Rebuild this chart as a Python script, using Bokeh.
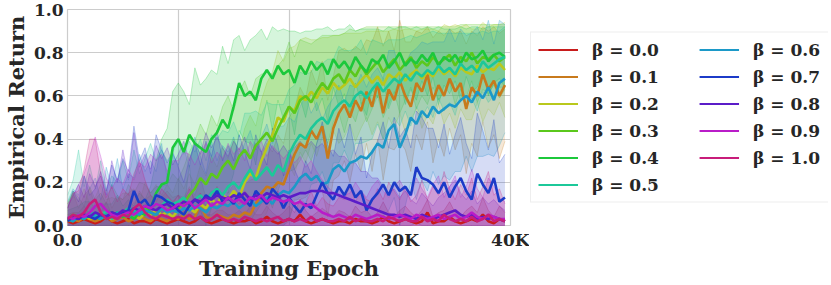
import colorsys
import numpy as np
from bokeh.plotting import figure
from bokeh.layouts import row
from bokeh.models import Legend, LegendItem, FixedTicker
from bokeh.embed import file_html
from bokeh.resources import INLINE

# ---------------- data ----------------
epochs = list(range(0, 40000, 500))

beta_labels = ["0.0", "0.1", "0.2", "0.3", "0.4", "0.5", "0.6", "0.7", "0.8", "0.9", "1.0"]

xtick_values = [0, 10000, 20000, 30000, 40000]
xtick_labels = ["0.0", "10K", "20K", "30K", "40K"]
ytick_values = [0.0, 0.2, 0.4, 0.6, 0.8, 1.0]
ytick_labels = ["0.0", "0.2", "0.4", "0.6", "0.8", "1.0"]

mean_b00 = [0.02,0.01,0.02,0.03,0.02,0.01,0.02,0.04,0.02,0.01,
            0.02,0.03,0.01,0.02,0.02,0.01,0.03,0.02,0.01,0.02,
            0.03,0.02,0.01,0.02,0.04,0.02,0.01,0.02,0.03,0.02,
            0.01,0.02,0.02,0.03,0.01,0.02,0.04,0.02,0.01,0.02,
            0.03,0.02,0.05,0.02,0.01,0.02,0.03,0.02,0.01,0.02,
            0.02,0.01,0.03,0.02,0.02,0.01,0.02,0.04,0.02,0.01,
            0.02,0.03,0.02,0.01,0.02,0.06,0.01,0.02,0.02,0.04,
            0.02,0.01,0.02,0.03,0.02,0.05,0.02,0.01,0.03,0.02]
mean_b01 = [0.02,0.03,0.02,0.04,0.03,0.02,0.03,0.05,0.02,0.03,
            0.04,0.02,0.03,0.05,0.03,0.02,0.04,0.03,0.02,0.04,
            0.03,0.05,0.03,0.04,0.1,0.04,0.03,0.05,0.04,0.03,
            0.05,0.04,0.06,0.05,0.1,0.15,0.18,0.17,0.2,0.19,
            0.26,0.33,0.38,0.36,0.44,0.4,0.46,0.31,0.45,0.52,
            0.56,0.5,0.58,0.53,0.62,0.55,0.66,0.52,0.63,0.58,
            0.67,0.6,0.55,0.66,0.62,0.7,0.58,0.65,0.6,0.68,
            0.62,0.66,0.54,0.64,0.6,0.7,0.63,0.67,0.6,0.65]
mean_b02 = [0.02,0.04,0.03,0.05,0.03,0.04,0.06,0.04,0.03,0.05,
            0.04,0.06,0.05,0.03,0.06,0.05,0.07,0.05,0.06,0.04,
            0.07,0.05,0.08,0.06,0.1,0.08,0.12,0.1,0.14,0.12,
            0.16,0.13,0.2,0.24,0.22,0.3,0.36,0.42,0.5,0.48,
            0.55,0.53,0.6,0.58,0.62,0.59,0.64,0.61,0.66,0.63,
            0.65,0.68,0.64,0.67,0.7,0.66,0.69,0.65,0.7,0.68,
            0.71,0.67,0.7,0.72,0.68,0.71,0.69,0.73,0.7,0.72,
            0.69,0.73,0.71,0.7,0.74,0.71,0.73,0.72,0.75,0.72]
mean_b03 = [0.03,0.05,0.04,0.03,0.06,0.04,0.05,0.03,0.06,0.05,
            0.04,0.07,0.05,0.06,0.08,0.06,0.05,0.08,0.07,0.09,
            0.08,0.1,0.14,0.17,0.22,0.19,0.24,0.22,0.27,0.3,
            0.26,0.32,0.35,0.31,0.37,0.4,0.43,0.39,0.45,0.5,
            0.55,0.52,0.58,0.6,0.57,0.62,0.66,0.63,0.68,0.7,
            0.66,0.72,0.69,0.74,0.7,0.73,0.76,0.71,0.74,0.77,
            0.72,0.75,0.78,0.73,0.76,0.74,0.78,0.75,0.77,0.79,
            0.74,0.78,0.76,0.8,0.75,0.78,0.77,0.79,0.76,0.78]
mean_b04 = [0.03,0.02,0.04,0.03,0.05,0.04,0.03,0.05,0.04,0.06,
            0.04,0.05,0.03,0.06,0.05,0.08,0.15,0.19,0.2,0.36,
            0.4,0.34,0.42,0.38,0.36,0.34,0.4,0.43,0.49,0.45,
            0.55,0.66,0.6,0.62,0.58,0.68,0.72,0.68,0.74,0.7,
            0.72,0.66,0.74,0.7,0.76,0.72,0.75,0.7,0.77,0.73,
            0.76,0.72,0.78,0.74,0.71,0.77,0.75,0.79,0.73,0.76,
            0.8,0.74,0.77,0.75,0.79,0.76,0.8,0.74,0.78,0.76,
            0.79,0.75,0.8,0.77,0.78,0.81,0.76,0.79,0.8,0.78]
mean_b05 = [0.04,0.03,0.05,0.04,0.06,0.05,0.04,0.07,0.03,0.05,
            0.06,0.08,0.07,0.06,0.09,0.08,0.1,0.09,0.12,0.1,
            0.11,0.13,0.09,0.12,0.14,0.11,0.15,0.17,0.14,0.18,
            0.2,0.17,0.22,0.26,0.21,0.24,0.27,0.23,0.28,0.25,
            0.33,0.38,0.42,0.4,0.45,0.48,0.5,0.47,0.53,0.56,
            0.58,0.55,0.6,0.62,0.59,0.63,0.66,0.62,0.65,0.68,
            0.66,0.7,0.67,0.71,0.69,0.72,0.7,0.74,0.71,0.73,
            0.7,0.75,0.72,0.74,0.71,0.76,0.73,0.75,0.77,0.78]
mean_b06 = [0.03,0.02,0.04,0.03,0.05,0.04,0.03,0.05,0.04,0.06,
            0.05,0.04,0.06,0.05,0.07,0.06,0.05,0.08,0.06,0.07,
            0.06,0.08,0.07,0.09,0.08,0.06,0.09,0.08,0.1,0.09,
            0.11,0.08,0.1,0.12,0.09,0.11,0.13,0.1,0.14,0.16,
            0.15,0.18,0.22,0.24,0.21,0.23,0.19,0.2,0.26,0.28,
            0.25,0.29,0.3,0.32,0.31,0.34,0.38,0.36,0.44,0.47,
            0.36,0.42,0.5,0.47,0.53,0.5,0.55,0.52,0.54,0.56,
            0.55,0.58,0.6,0.57,0.62,0.59,0.64,0.58,0.66,0.68]
mean_b07 = [0.02,0.04,0.03,0.05,0.04,0.03,0.05,0.04,0.06,0.05,
            0.06,0.07,0.16,0.1,0.12,0.08,0.14,0.13,0.11,0.1,
            0.07,0.05,0.09,0.12,0.1,0.14,0.12,0.16,0.11,0.13,
            0.1,0.15,0.12,0.09,0.16,0.13,0.1,0.17,0.14,0.08,
            0.13,0.09,0.06,0.1,0.08,0.14,0.2,0.15,0.12,0.18,
            0.14,0.19,0.13,0.16,0.07,0.12,0.15,0.19,0.14,0.2,
            0.16,0.18,0.14,0.27,0.22,0.21,0.19,0.15,0.2,0.13,
            0.18,0.22,0.16,0.12,0.24,0.19,0.15,0.22,0.11,0.13]
mean_b08 = [0.03,0.04,0.03,0.05,0.04,0.06,0.05,0.04,0.06,0.05,
            0.07,0.06,0.08,0.07,0.09,0.08,0.07,0.09,0.1,0.08,
            0.09,0.11,0.1,0.12,0.11,0.13,0.12,0.14,0.13,0.12,
            0.14,0.13,0.15,0.12,0.14,0.13,0.15,0.14,0.13,0.14,
            0.13,0.14,0.15,0.15,0.16,0.16,0.16,0.15,0.15,0.14,
            0.13,0.12,0.11,0.1,0.09,0.08,0.07,0.06,0.05,0.05,
            0.04,0.05,0.04,0.03,0.05,0.04,0.03,0.04,0.05,0.06,
            0.07,0.05,0.04,0.05,0.03,0.04,0.03,0.04,0.03,0.02]
mean_b09 = [0.04,0.03,0.05,0.04,0.06,0.09,0.1,0.07,0.05,0.04,
            0.05,0.06,0.05,0.07,0.09,0.08,0.1,0.09,0.07,0.08,
            0.1,0.09,0.11,0.08,0.1,0.12,0.09,0.11,0.1,0.13,
            0.11,0.12,0.1,0.13,0.12,0.14,0.11,0.13,0.12,0.11,
            0.12,0.1,0.11,0.09,0.1,0.08,0.06,0.05,0.04,0.05,
            0.04,0.03,0.05,0.04,0.03,0.04,0.05,0.04,0.03,0.04,
            0.05,0.04,0.03,0.05,0.04,0.03,0.04,0.05,0.03,0.04,
            0.05,0.03,0.04,0.06,0.04,0.03,0.05,0.04,0.03,0.03]
mean_b10 = [0.03,0.05,0.04,0.06,0.1,0.12,0.06,0.03,0.04,0.03,
            0.05,0.04,0.08,0.1,0.06,0.04,0.03,0.05,0.04,0.03,
            0.04,0.03,0.05,0.03,0.04,0.02,0.03,0.05,0.03,0.02,
            0.03,0.02,0.04,0.03,0.02,0.03,0.02,0.03,0.04,0.02,
            0.03,0.02,0.03,0.02,0.04,0.02,0.03,0.02,0.02,0.03,
            0.02,0.04,0.02,0.03,0.02,0.02,0.03,0.02,0.04,0.03,
            0.02,0.03,0.02,0.02,0.04,0.02,0.03,0.02,0.05,0.03,
            0.02,0.03,0.02,0.04,0.02,0.03,0.05,0.02,0.03,0.02]

std_b00 = [0.03,0.05,0.04,0.06,0.03,0.05,0.04,0.07,0.03,0.04,
           0.05,0.03,0.06,0.04,0.03,0.05,0.04,0.06,0.03,0.04,
           0.05,0.04,0.03,0.06,0.05,0.03,0.04,0.05,0.04,0.03,
           0.04,0.05,0.03,0.06,0.04,0.03,0.05,0.04,0.03,0.04,
           0.06,0.04,0.07,0.05,0.03,0.04,0.05,0.04,0.03,0.05,
           0.04,0.03,0.06,0.04,0.05,0.03,0.04,0.07,0.04,0.03,
           0.05,0.06,0.04,0.03,0.05,0.06,0.03,0.04,0.05,0.07,
           0.04,0.03,0.05,0.06,0.04,0.08,0.05,0.03,0.06,0.04]
std_b01 = [0.08,0.12,0.06,0.1,0.14,0.07,0.09,0.12,0.06,0.1,
           0.08,0.13,0.07,0.11,0.09,0.12,0.08,0.1,0.14,0.09,
           0.11,0.08,0.15,0.1,0.12,0.09,0.13,0.11,0.08,0.12,
           0.14,0.1,0.13,0.16,0.12,0.18,0.2,0.17,0.22,0.19,
           0.24,0.21,0.26,0.23,0.28,0.25,0.3,0.27,0.24,0.29,
           0.26,0.3,0.25,0.28,0.24,0.3,0.26,0.31,0.27,0.23,
           0.28,0.25,0.3,0.24,0.27,0.22,0.29,0.25,0.28,0.23,
           0.27,0.24,0.3,0.26,0.28,0.22,0.27,0.25,0.29,0.26]
std_b02 = [0.06,0.1,0.08,0.12,0.07,0.09,0.13,0.08,0.1,0.07,
           0.11,0.09,0.12,0.08,0.14,0.1,0.12,0.09,0.13,0.11,
           0.15,0.12,0.16,0.13,0.18,0.15,0.2,0.17,0.22,0.19,
           0.24,0.21,0.25,0.27,0.24,0.28,0.3,0.29,0.31,0.28,
           0.27,0.3,0.26,0.29,0.24,0.27,0.23,0.26,0.22,0.25,
           0.24,0.21,0.25,0.22,0.2,0.24,0.21,0.25,0.2,0.23,
           0.19,0.24,0.21,0.18,0.23,0.2,0.22,0.17,0.23,0.2,
           0.24,0.19,0.22,0.21,0.17,0.23,0.19,0.21,0.18,0.22]
std_b03 = [0.07,0.11,0.09,0.06,0.12,0.08,0.1,0.07,0.13,0.09,
           0.08,0.12,0.1,0.14,0.11,0.09,0.13,0.1,0.12,0.15,
           0.13,0.17,0.2,0.22,0.25,0.23,0.27,0.24,0.28,0.3,
           0.27,0.3,0.32,0.29,0.31,0.3,0.28,0.31,0.29,0.27,
           0.3,0.26,0.28,0.25,0.27,0.24,0.22,0.25,0.2,0.18,
           0.23,0.19,0.21,0.17,0.22,0.19,0.16,0.21,0.18,0.15,
           0.2,0.17,0.14,0.19,0.16,0.18,0.14,0.17,0.15,0.13,
           0.18,0.15,0.17,0.13,0.18,0.15,0.16,0.14,0.17,0.15]
std_b04 = [0.04,0.06,0.05,0.08,0.06,0.04,0.07,0.05,0.06,0.08,
           0.05,0.07,0.06,0.09,0.07,0.1,0.15,0.21,0.25,0.26,
           0.26,0.28,0.14,0.35,0.29,0.34,0.32,0.27,0.34,0.3,
           0.31,0.22,0.21,0.24,0.3,0.23,0.14,0.24,0.16,0.21,
           0.18,0.24,0.15,0.2,0.14,0.19,0.16,0.22,0.13,0.18,
           0.15,0.21,0.12,0.17,0.2,0.14,0.16,0.11,0.19,0.15,
           0.12,0.18,0.14,0.17,0.12,0.16,0.11,0.18,0.13,0.15,
           0.12,0.17,0.11,0.15,0.14,0.1,0.16,0.13,0.12,0.14]
std_b05 = [0.1,0.18,0.3,0.14,0.22,0.12,0.26,0.1,0.2,0.15,
           0.24,0.13,0.28,0.18,0.22,0.3,0.2,0.26,0.18,0.24,
           0.28,0.2,0.3,0.22,0.26,0.19,0.27,0.23,0.3,0.25,
           0.28,0.24,0.3,0.26,0.32,0.27,0.3,0.33,0.28,0.31,
           0.3,0.27,0.29,0.3,0.26,0.28,0.25,0.3,0.24,0.27,
           0.23,0.26,0.22,0.24,0.2,0.23,0.19,0.22,0.21,0.18,
           0.2,0.17,0.21,0.16,0.19,0.17,0.2,0.15,0.18,0.16,
           0.19,0.14,0.17,0.15,0.18,0.14,0.16,0.15,0.13,0.14]
std_b06 = [0.08,0.15,0.1,0.2,0.12,0.18,0.09,0.22,0.14,0.25,
           0.12,0.2,0.16,0.28,0.18,0.24,0.2,0.3,0.16,0.26,
           0.22,0.28,0.2,0.32,0.24,0.18,0.3,0.22,0.27,0.25,
           0.3,0.24,0.28,0.32,0.26,0.3,0.34,0.28,0.32,0.3,
           0.35,0.3,0.33,0.36,0.31,0.34,0.3,0.35,0.33,0.37,
           0.32,0.36,0.34,0.38,0.33,0.36,0.35,0.32,0.37,0.34,
           0.36,0.33,0.3,0.35,0.32,0.34,0.3,0.33,0.31,0.35,
           0.3,0.33,0.28,0.32,0.3,0.27,0.31,0.26,0.29,0.25]
std_b07 = [0.06,0.12,0.08,0.18,0.1,0.14,0.2,0.12,0.22,0.16,
           0.25,0.18,0.3,0.2,0.24,0.16,0.28,0.22,0.18,0.24,
           0.2,0.15,0.22,0.26,0.18,0.25,0.2,0.28,0.19,0.24,
           0.2,0.27,0.22,0.17,0.26,0.21,0.18,0.28,0.23,0.15,
           0.22,0.17,0.14,0.2,0.16,0.24,0.28,0.22,0.2,0.27,
           0.22,0.28,0.2,0.25,0.15,0.21,0.24,0.29,0.22,0.3,
           0.25,0.27,0.22,0.26,0.28,0.24,0.26,0.21,0.27,0.2,
           0.24,0.28,0.22,0.19,0.28,0.25,0.2,0.27,0.18,0.2]
std_b08 = [0.05,0.1,0.16,0.08,0.2,0.12,0.18,0.1,0.24,0.15,
           0.28,0.16,0.35,0.2,0.24,0.18,0.3,0.22,0.26,0.2,
           0.24,0.28,0.2,0.26,0.22,0.3,0.24,0.27,0.23,0.2,
           0.25,0.22,0.26,0.2,0.24,0.21,0.25,0.22,0.2,0.23,
           0.2,0.22,0.24,0.21,0.23,0.2,0.22,0.19,0.2,0.18,
           0.19,0.17,0.18,0.15,0.16,0.14,0.15,0.12,0.1,0.12,
           0.09,0.11,0.08,0.07,0.1,0.08,0.06,0.09,0.1,0.12,
           0.14,0.1,0.08,0.11,0.07,0.09,0.07,0.08,0.06,0.05]
std_b09 = [0.06,0.1,0.14,0.2,0.26,0.32,0.22,0.15,0.12,0.18,
           0.14,0.2,0.16,0.22,0.18,0.25,0.2,0.24,0.18,0.22,
           0.2,0.25,0.22,0.2,0.24,0.26,0.2,0.23,0.21,0.25,
           0.22,0.24,0.2,0.26,0.23,0.25,0.21,0.24,0.22,0.2,
           0.22,0.19,0.21,0.18,0.2,0.17,0.15,0.13,0.11,0.12,
           0.1,0.12,0.15,0.12,0.1,0.14,0.16,0.12,0.1,0.14,
           0.16,0.12,0.1,0.17,0.13,0.1,0.15,0.18,0.1,0.14,
           0.18,0.1,0.14,0.2,0.13,0.1,0.17,0.14,0.1,0.08]
std_b10 = [0.05,0.1,0.12,0.2,0.3,0.28,0.18,0.1,0.14,0.08,
           0.12,0.1,0.16,0.2,0.15,0.1,0.08,0.12,0.1,0.08,
           0.1,0.08,0.12,0.09,0.11,0.07,0.1,0.13,0.09,0.07,
           0.1,0.08,0.12,0.1,0.07,0.1,0.08,0.1,0.12,0.08,
           0.1,0.07,0.09,0.08,0.12,0.07,0.1,0.08,0.07,0.1,
           0.1,0.14,0.09,0.13,0.1,0.09,0.14,0.1,0.16,0.13,
           0.1,0.15,0.09,0.12,0.17,0.1,0.15,0.12,0.2,0.14,
           0.1,0.16,0.12,0.18,0.1,0.15,0.2,0.12,0.14,0.08]

means = [mean_b00, mean_b01, mean_b02, mean_b03, mean_b04, mean_b05,
         mean_b06, mean_b07, mean_b08, mean_b09, mean_b10]
stds = [std_b00, std_b01, std_b02, std_b03, std_b04, std_b05,
        std_b06, std_b07, std_b08, std_b09, std_b10]

# ---------------- style ----------------
colors = []
for k in range(11):
    r, g, b = colorsys.hls_to_rgb(k / 11.0, 0.45, 0.75)
    colors.append("#%02x%02x%02x" % (int(r * 255), int(g * 255), int(b * 255)))

FONT = "DejaVu Serif"
TEXT_COLOR = "#262626"
FIG_H = 283
MAIN_W = 529
LEG_FIG_W = 299
TOP = 9

p = figure(width=MAIN_W, height=FIG_H, x_range=(0, 40000), y_range=(0, 1.0),
           output_backend="svg", toolbar_location=None,
           min_border_top=TOP, min_border_bottom=0, min_border_left=0, min_border_right=19)
p.background_fill_color = "white"
p.border_fill_color = "white"
p.outline_line_color = "#cccccc"
p.outline_line_width = 1.2

x = np.array(epochs, dtype=float)
# bands first
for k in range(11):
    m = np.array(means[k])
    s = np.array(stds[k])
    lo = np.clip(m - s, 0, 1)
    hi = np.clip(m + s, 0, 1)
    c = colors[k]
    p.varea(x=x, y1=lo, y2=hi, fill_color=c, fill_alpha=0.18)
    p.line(x, hi, line_color=c, line_alpha=0.45, line_width=0.6)
    p.line(x, lo, line_color=c, line_alpha=0.45, line_width=0.6)
# mean lines on top
for k in range(11):
    p.line(x, means[k], line_color=colors[k], line_width=2.6)

p.xaxis.ticker = FixedTicker(ticks=xtick_values)
p.xaxis.major_label_overrides = {v: l for v, l in zip(xtick_values, xtick_labels)}
p.yaxis.ticker = FixedTicker(ticks=ytick_values)
p.yaxis.major_label_overrides = {v: l for v, l in zip(ytick_values, ytick_labels)}

for ax in (p.xaxis, p.yaxis):
    ax.axis_line_color = None
    ax.major_tick_line_color = None
    ax.minor_tick_line_color = None
    ax.major_tick_out = 0
    ax.major_tick_in = 0
    ax.major_label_text_font = FONT
    ax.major_label_text_font_style = "bold"
    ax.major_label_text_font_size = "17px"
    ax.major_label_text_color = TEXT_COLOR
    ax.axis_label_text_font = FONT
    ax.axis_label_text_font_style = "bold"
    ax.axis_label_text_font_size = "21px"
    ax.axis_label_text_color = TEXT_COLOR

p.xaxis.major_label_standoff = 4
p.yaxis.major_label_standoff = 4
p.xaxis.axis_label = "Training Epoch"
p.yaxis.axis_label = "Empirical Return"
p.xaxis.axis_label_standoff = 3
p.yaxis.axis_label_standoff = 2

p.xgrid.grid_line_color = "#cccccc"
p.ygrid.grid_line_color = "#cccccc"
p.xgrid.grid_line_width = 1.2
p.ygrid.grid_line_width = 1.2

# ---------------- legend figure ----------------
lf = figure(width=LEG_FIG_W, height=FIG_H, x_range=(0, 1), y_range=(0, 1),
            output_backend="svg", toolbar_location=None,
            x_axis_location=None, y_axis_location=None,
            min_border_left=0, min_border_right=0, min_border_bottom=0,
            min_border_top=TOP)
lf.outline_line_color = None
lf.grid.visible = False
lf.background_fill_color = "white"
lf.border_fill_color = "white"

items = []
for k in range(11):
    r = lf.line(x=[-5, -4], y=[-5, -5], line_color=colors[k], line_width=2.2)
    items.append(LegendItem(label="β = " + beta_labels[k], renderers=[r]))
# an empty slot so that the second column has as many rows as the first
blank = lf.line(x=[-5, -4], y=[-5, -5], line_alpha=0.0)
blank_item = LegendItem(label=" ", renderers=[blank])

LEG_W = 297
PAD = 7
GLYPH_W = 40
STANDOFF = 14
ROW = 27
SPACING = 7
MARGIN = 1
LABEL_W_B = 66


def style_legend(lg):
    lg.orientation = "vertical"
    lg.label_text_font = FONT
    lg.label_text_font_style = "bold"
    lg.label_text_font_size = "17px"
    lg.label_text_color = TEXT_COLOR
    lg.glyph_width = GLYPH_W
    lg.glyph_height = ROW - SPACING
    lg.label_height = ROW - SPACING
    lg.label_standoff = STANDOFF
    lg.spacing = SPACING
    lg.padding = PAD
    lg.margin = MARGIN


leg_a = Legend(items=items[:6], location="center_left")
style_legend(leg_a)
leg_a.label_width = LEG_W - 2 * PAD - GLYPH_W - STANDOFF
leg_a.border_line_color = "#dddddd"
leg_a.border_line_width = 1.2
leg_a.background_fill_color = "white"
leg_a.background_fill_alpha = 1.0

leg_b = Legend(items=items[6:] + [blank_item], location="center_right")
style_legend(leg_b)
leg_b.label_width = LABEL_W_B
leg_b.border_line_color = "white"
leg_b.border_line_alpha = 0.0
leg_b.background_fill_alpha = 0.0

lf.add_layout(leg_a, "center")
lf.add_layout(leg_b, "center")

layout = row(p, lf)
open("out.html", "w").write(file_html(layout, INLINE))
